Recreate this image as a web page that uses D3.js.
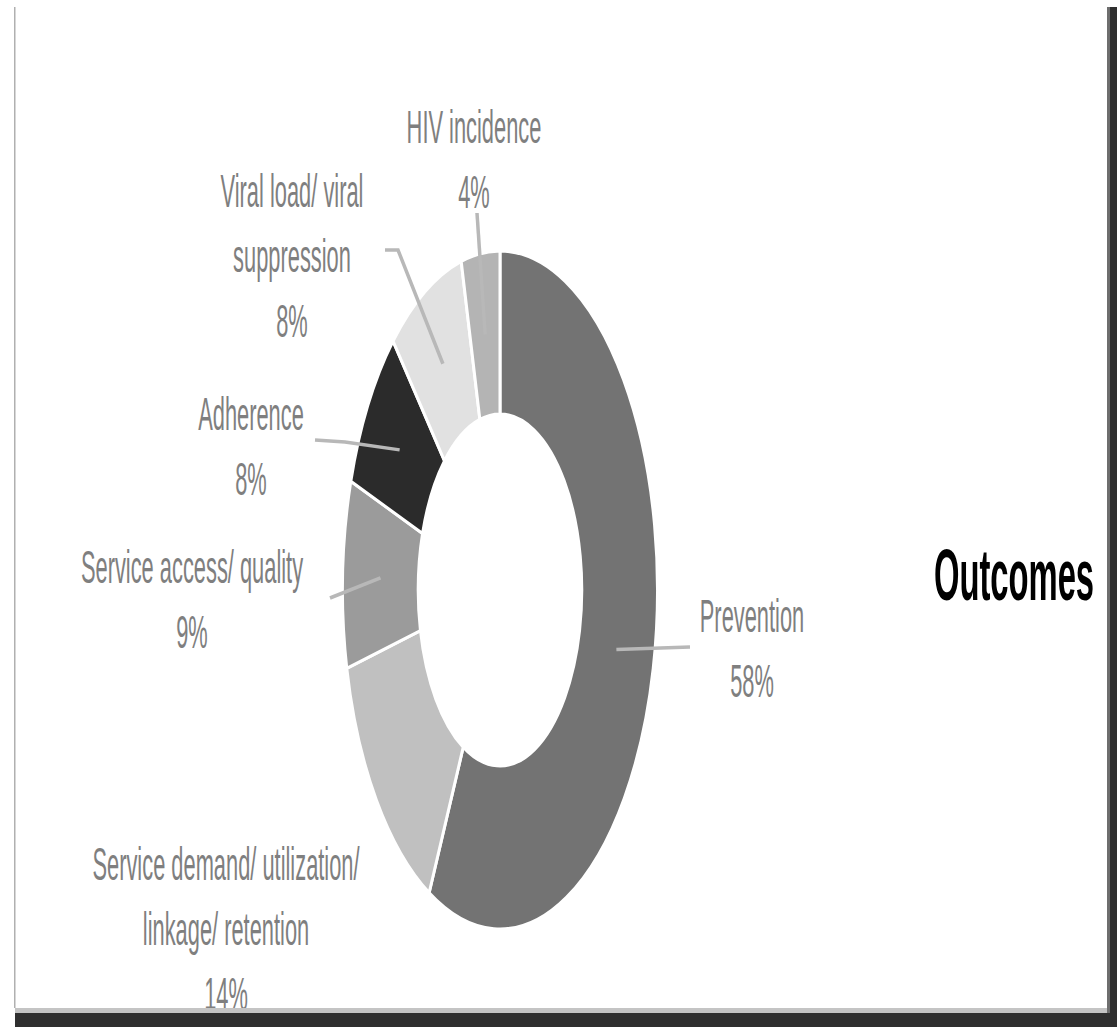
<!DOCTYPE html>
<html>
<head>
<meta charset="utf-8">
<script src="https://cdn.jsdelivr.net/npm/d3@7"></script>
<style>
  html, body { margin: 0; padding: 0; background: #fff; }
  svg { display: block; }
</style>
</head>
<body>
<svg id="chart" width="1117" height="1027"></svg>
<script>
// ---- data ----
const categories = ["Prevention", "Service demand/ utilization/ linkage/ retention", "Service access/ quality", "Adherence", "Viral load/ viral suppression", "HIV incidence"];
const labelLines = [["Prevention"], ["Service demand/ utilization/", "linkage/ retention"], ["Service access/ quality"], ["Adherence"], ["Viral load/ viral", "suppression"], ["HIV incidence"]];
const values = [58, 14, 9, 8, 8, 4];
const title = "Outcomes";

// ---- layout / style ----
const W = 1117, H = 1027;
const cx = 500, cy = 590;
const rOuter = 339, rInner = 176;
const sx = 0.4646;              // horizontal squeeze of the picture
const textSx = 0.475;
const colors = ["#737373", "#c0c0c0", "#9b9b9b", "#2b2b2b", "#e1e1e1", "#b4b4b4"];
// label anchor (centre x, first baseline y) and leader start points
const labelPos = [[752, 632], [226, 880], [192, 583], [251, 430], [292, 207], [474, 143]];
const leaderStart = [[690, 647], null, [330, 598], [315, 440], [385, 250], [477, 213]];
const leaderMid = [null, null, null, [345, 442], [398, 250], null];
const lineH = 65;

const svg = d3.select("#chart");

const pie = d3.pie().sort(null).value(d => d).startAngle(0).endAngle(2 * Math.PI);
const arcs = pie(values);
const arc = d3.arc().innerRadius(rInner).outerRadius(rOuter);

const g = svg.append("g").attr("transform", `translate(${cx},${cy}) scale(${sx},1)`);
g.selectAll("path.slice").data(arcs).enter().append("path")
  .attr("class", "slice")
  .attr("d", arc)
  .attr("fill", (d, i) => colors[i])
  .attr("stroke", "#ffffff")
  .attr("stroke-width", 3)
  .attr("vector-effect", "non-scaling-stroke");

// leader lines (end at slice centroid)
const toScreen = p => [cx + p[0] * sx, cy + p[1]];
arcs.forEach((a, i) => {
  if (!leaderStart[i]) return;
  const pts = [leaderStart[i]];
  if (leaderMid[i]) pts.push(leaderMid[i]);
  pts.push(toScreen(arc.centroid(a)));
  svg.append("path")
    .attr("d", d3.line()(pts))
    .attr("fill", "none")
    .attr("stroke", "#b8b8b8")
    .attr("stroke-width", 3.5);
});

// labels
arcs.forEach((a, i) => {
  const [x, y] = labelPos[i];
  const lines = labelLines[i].concat([values[i] + "%"]);
  lines.forEach((t, k) => {
    svg.append("text")
      .attr("transform", `translate(${x},${y + k * lineH}) scale(${textSx},1)`)
      .attr("text-anchor", "middle")
      .attr("font-family", "Liberation Sans, Arial, sans-serif")
      .attr("font-size", 46)
      .attr("fill", "#7f7f7f")
      .text(t);
  });
});

// title
svg.append("text")
  .attr("transform", `translate(1014,600) scale(0.455,1)`)
  .attr("text-anchor", "middle")
  .attr("font-family", "Liberation Sans, Arial, sans-serif")
  .attr("font-weight", "bold")
  .attr("font-size", 72)
  .attr("fill", "#000")
  .text(title);

// frame
svg.append("rect").attr("x", 14).attr("y", 7).attr("width", 1.5).attr("height", 1001).attr("fill", "#b0b0b0");
svg.append("rect").attr("x", 15).attr("y", 1008).attr("width", 1093).attr("height", 5).attr("fill", "#c4c4c4");
svg.append("rect").attr("x", 15).attr("y", 1013).attr("width", 1102).attr("height", 14).attr("fill", "#2f2f2f");
svg.append("rect").attr("x", 1107).attr("y", 7).attr("width", 3).attr("height", 1006).attr("fill", "#6e6e6e");
svg.append("rect").attr("x", 1110).attr("y", 7).attr("width", 7).attr("height", 1020).attr("fill", "#2f2f2f");
</script>
</body>
</html>
